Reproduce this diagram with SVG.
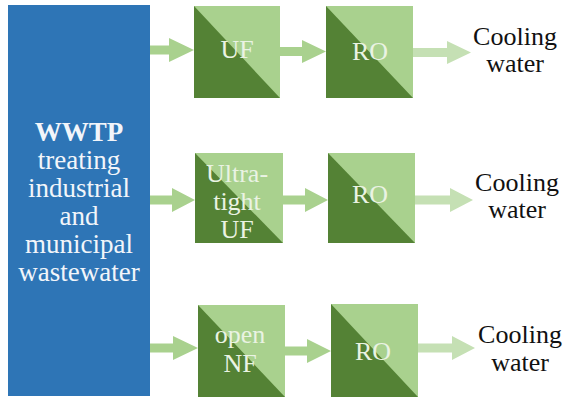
<svg xmlns="http://www.w3.org/2000/svg" width="568" height="398" viewBox="0 0 568 398" font-family="Liberation Serif, Times New Roman, Tinos, DejaVu Serif, Noto Serif, serif">
<style>
.dark{fill:#548235}
.light{fill:#a9d18e}
.arr{fill:#a9d18e}
.out{fill:#c5e0b4}
.bt{font-size:26px;fill:#eaf3e3;text-anchor:middle}
.ct{font-size:26px;fill:#111;text-anchor:middle}
.wt{font-size:27px;fill:#f2f5fa;text-anchor:middle}
</style>
<rect width="568" height="398" fill="#ffffff"/>
<g id="wwtp">
<rect x="8" y="5" width="142" height="391" fill="#2e75b6"/>
<text class="wt" x="79" y="141" font-weight="bold">WWTP</text>
<text class="wt" x="79" y="169">treating</text>
<text class="wt" x="79" y="197">industrial</text>
<text class="wt" x="79" y="225">and</text>
<text class="wt" x="79" y="253">municipal</text>
<text class="wt" x="79" y="281">wastewater</text>
</g>
<g id="connectors">
<polygon class="arr" points="150,45.5 169,45.5 169,38 194,50 169,62 169,54.5 150,54.5"/>
<polygon class="arr" points="280,47 302,47 302,40 326,51.5 302,63 302,56 280,56"/>
<polygon class="out" points="413,48 447,48 447,41 471,52.5 447,64 447,57 413,57"/>
<polygon class="arr" points="150,195.5 172,195.5 172,188 195,200 172,212 172,204.5 150,204.5"/>
<polygon class="arr" points="283,195.5 305,195.5 305,188 328,200 305,212 305,204.5 283,204.5"/>
<polygon class="out" points="415,195.5 450,195.5 450,188 473,200 450,212 450,204.5 415,204.5"/>
<polygon class="arr" points="150,343.5 173,343.5 173,336 198,348 173,360 173,352.5 150,352.5"/>
<polygon class="arr" points="285,346.5 307,346.5 307,339 331,351 307,363 307,355.5 285,355.5"/>
<polygon class="out" points="418,343.5 452,343.5 452,336 475,348 452,360 452,352.5 418,352.5"/>
</g>
<g id="uf1">
<rect class="light" x="194" y="6" width="86" height="92"/>
<polygon class="dark" points="194,6 280,98 194,98"/>
<text class="bt" x="237" y="58">UF</text>
</g>
<g id="ro1">
<rect class="light" x="326" y="6" width="87" height="92"/>
<polygon class="dark" points="326,6 413,98 326,98"/>
<text class="bt" x="370" y="60">RO</text>
</g>
<g id="cw1">
<text class="ct" x="515" y="45">Cooling</text>
<text class="ct" x="515" y="72">water</text>
</g>
<g id="uf2">
<rect class="light" x="195" y="153" width="88" height="90"/>
<polygon class="dark" points="195,153 283,243 195,243"/>
<text class="bt" x="237" y="182">Ultra-</text>
<text class="bt" x="237" y="210">tight</text>
<text class="bt" x="237" y="238">UF</text>
</g>
<g id="ro2">
<rect class="light" x="328" y="153" width="87" height="90"/>
<polygon class="dark" points="328,153 415,243 328,243"/>
<text class="bt" x="370" y="203">RO</text>
</g>
<g id="cw2">
<text class="ct" x="517" y="191">Cooling</text>
<text class="ct" x="517" y="218">water</text>
</g>
<g id="nf3">
<rect class="light" x="198" y="305" width="87" height="92"/>
<polygon class="dark" points="198,305 285,397 198,397"/>
<text class="bt" x="240" y="343">open</text>
<text class="bt" x="240" y="372">NF</text>
</g>
<g id="ro3">
<rect class="light" x="331" y="304" width="87" height="93"/>
<polygon class="dark" points="331,304 418,397 331,397"/>
<text class="bt" x="373" y="360">RO</text>
</g>
<g id="cw3">
<text class="ct" x="520" y="343">Cooling</text>
<text class="ct" x="520" y="371">water</text>
</g>
</svg>
